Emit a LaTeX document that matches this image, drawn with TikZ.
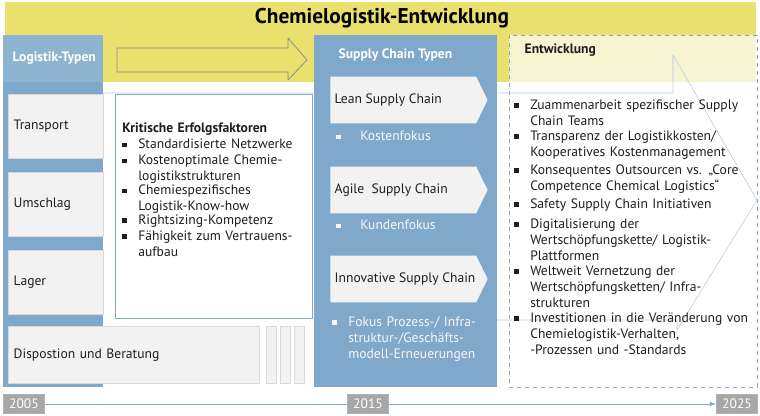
\documentclass[tikz,border=0pt]{standalone}
\usepackage{fontspec}
\setmainfont{PT Sans}
\usetikzlibrary{arrows,shapes,positioning}
\definecolor{colblue}{HTML}{80A8CB}
\definecolor{headblue}{HTML}{8FB4D2}
\definecolor{bandyel}{HTML}{E9E06E}
\definecolor{paleyel}{HTML}{F7F4D2}
\definecolor{boxgray}{HTML}{F3F2F2}
\definecolor{yeargray}{HTML}{A7A7A7}
\definecolor{txt}{HTML}{1E1E1E}
\tikzstyle{typebox}=[fill=boxgray,draw=white!85!black,line width=0.6pt,inner sep=0pt,text=txt]
\tikzstyle{chev}=[signal,signal to=east,signal pointer angle=128,fill=boxgray,inner sep=0pt,minimum width=118pt,minimum height=35pt]
\tikzstyle{year}=[fill=yeargray,draw=white!70!black,text=white,minimum width=31pt,minimum height=14pt,inner sep=0pt]
\newcommand\itm[2][150pt]{\par\noindent\makebox[12pt][l]{\rule[1.2pt]{3.5pt}{3.5pt}}\parbox[t]{#1}{#2}}
\newcommand\txtsize{\fontsize{10.2}{12}\selectfont}

\begin{document}
\begin{tikzpicture}[x=0.75pt,y=-0.75pt,>=latex,line join=bevel]
	\useasboundingbox (0,0) rectangle (760,416);
	%% background bands
	\fill[bandyel] (5,2) rectangle (756,82);
	\node (title) at (382,18) {\fontsize{16}{18}\selectfont\bfseries Chemielogistik-Entwicklung};
	\fill[paleyel] (509,35) rectangle (756,82);
	\fill[white] (509,82) rectangle (756,387);
	\draw[colblue,dashed,line width=0.6pt] (509,35) rectangle (757,387);
	%% faint development arrow
	\draw[colblue!60,line width=0.4pt] (103,93) -- (673,93) -- (673,55) -- (757,200) -- (677,330) -- (677,320) -- (313,320);
	%% left column
	\fill[colblue] (3,35) rectangle (103,387);
	\fill[headblue] (3,35) rectangle (103,82);
	\node[anchor=west,text=white,font=\txtsize\bfseries] (ltyp) at (8,58) {Logistik-Typen};
	\node[typebox,minimum width=71pt,minimum height=48pt,anchor=north west,text width=63pt,align=left,font=\txtsize] (trans) at (8,94) {Transport};
	\node[typebox,minimum width=71pt,minimum height=48pt,anchor=north west,text width=63pt,align=left,font=\txtsize] (umsch) at (8,172) {Umschlag};
	\node[typebox,minimum width=71pt,minimum height=48pt,anchor=north west,text width=63pt,align=left,font=\txtsize] (lager) at (8,250) {Lager};
	\node[typebox,minimum width=188pt,minimum height=43pt,anchor=north west,text width=180pt,align=left,font=\txtsize] (dispo) at (8,326) {Dispostion und Beratung};
	\foreach \x in {266,280,294}
	  \node[typebox,minimum width=7.5pt,minimum height=43pt,anchor=north west] at (\x,326) {};
	%% yellow arrow
	\draw[fill=bandyel,draw=black!45,line width=0.6pt] (117,48) -- (288,48) -- (288,38) -- (307,60) -- (288,80) -- (288,72) -- (117,72) -- cycle;
	%% critical factors
	\node[draw=colblue,fill=white,line width=0.6pt,anchor=north west,minimum width=148pt,minimum height=168pt] (krit) at (115,94) {};
	\node[anchor=north west,text width=140pt,font=\txtsize,text=txt,inner sep=0pt] (kritt) at (122,123) {\textbf{Kritische Erfolgsfaktoren}
	  \itm[125pt]{Standardisierte Netzwerke}
	  \itm[125pt]{Kostenoptimale Chemie-\\logistikstrukturen}
	  \itm[125pt]{Chemiespezifisches\\Logistik-Know-how}
	  \itm[125pt]{Rightsizing-Kompetenz}
	  \itm[125pt]{Fähigkeit zum Vertrauens-\\aufbau}};
	%% supply chain column
	\fill[colblue] (314,35) rectangle (497,387);
	\node[anchor=west,text=white,font=\txtsize\bfseries] (sct) at (334,55) {Supply Chain Typen};
	\node[chev,anchor=west] (lean) at (330,100) {};
	\node[anchor=west,font=\txtsize,text=txt] at (lean.west) {Lean Supply Chain};
	\node[chev,anchor=west] (agile) at (330,190) {};
	\node[anchor=west,font=\txtsize,text=txt] at (agile.west) {Agile\ \ Supply Chain};
	\node[chev,anchor=west] (innov) at (330,279) {};
	\node[anchor=west,font=\txtsize,text=txt] at (innov.west) {Innovative Supply Chain};
	\node[anchor=north west,inner sep=0pt,text=white!92!colblue,font=\txtsize] (kost) at (336,131) {\makebox[18pt][l]{\rule[1.2pt]{3.5pt}{3.5pt}}Kostenfokus};
	\node[anchor=north west,inner sep=0pt,text=white!92!colblue,font=\txtsize] (kund) at (336,220) {\makebox[18pt][l]{\rule[1.2pt]{3.5pt}{3.5pt}}Kundenfokus};
	\node[anchor=north west,inner sep=0pt,text=white!92!colblue,font=\txtsize,text width=135pt] (fok) at (332,310) {\itm[120pt]{Fokus Prozess-/ Infra-\\struktur-/Geschäfts-\\modell-Erneuerungen}};
	%% development
	\node[anchor=west,font=\txtsize\bfseries,text=txt] (entw) at (520,50) {Entwicklung};
	\node[anchor=north west,inner sep=0pt,text width=180pt,font=\txtsize,text=txt] (entl) at (514,93) {%
	  \itm[166pt]{Zuammenarbeit spezifischer Supply\\Chain Teams}\par\vspace{3pt}
	  \itm[166pt]{Transparenz der Logistikkosten/\\Kooperatives Kostenmanagement}\par\vspace{3pt}
	  \itm[166pt]{Konsequentes Outsourcen vs. „Core\\Competence Chemical Logistics“}\par\vspace{3pt}
	  \itm[166pt]{Safety Supply Chain Initiativen}\par\vspace{3pt}
	  \itm[166pt]{Digitalisierung der\\Wertschöpfungskette/ Logistik-\\Plattformen}\par\vspace{3pt}
	  \itm[166pt]{Weltweit Vernetzung der\\Wertschöpfungsketten/ Infra-\\strukturen}\par\vspace{3pt}
	  \itm[166pt]{Investitionen in die Veränderung von\\Chemielogistik-Verhalten,\\-Prozessen und -Standards}};
	%% time line
	\node[year,font=\txtsize] (y1) at (24,404) {2005};
	\node[year,font=\txtsize] (y2) at (368,404) {2015};
	\node[year,font=\txtsize] (y3) at (737,404) {2025};
	\draw[colblue,line width=0.6pt] (y1) -- (y2);
	\draw[colblue,line width=0.6pt,->] (y2) -- (y3);
\end{tikzpicture}
\end{document}
